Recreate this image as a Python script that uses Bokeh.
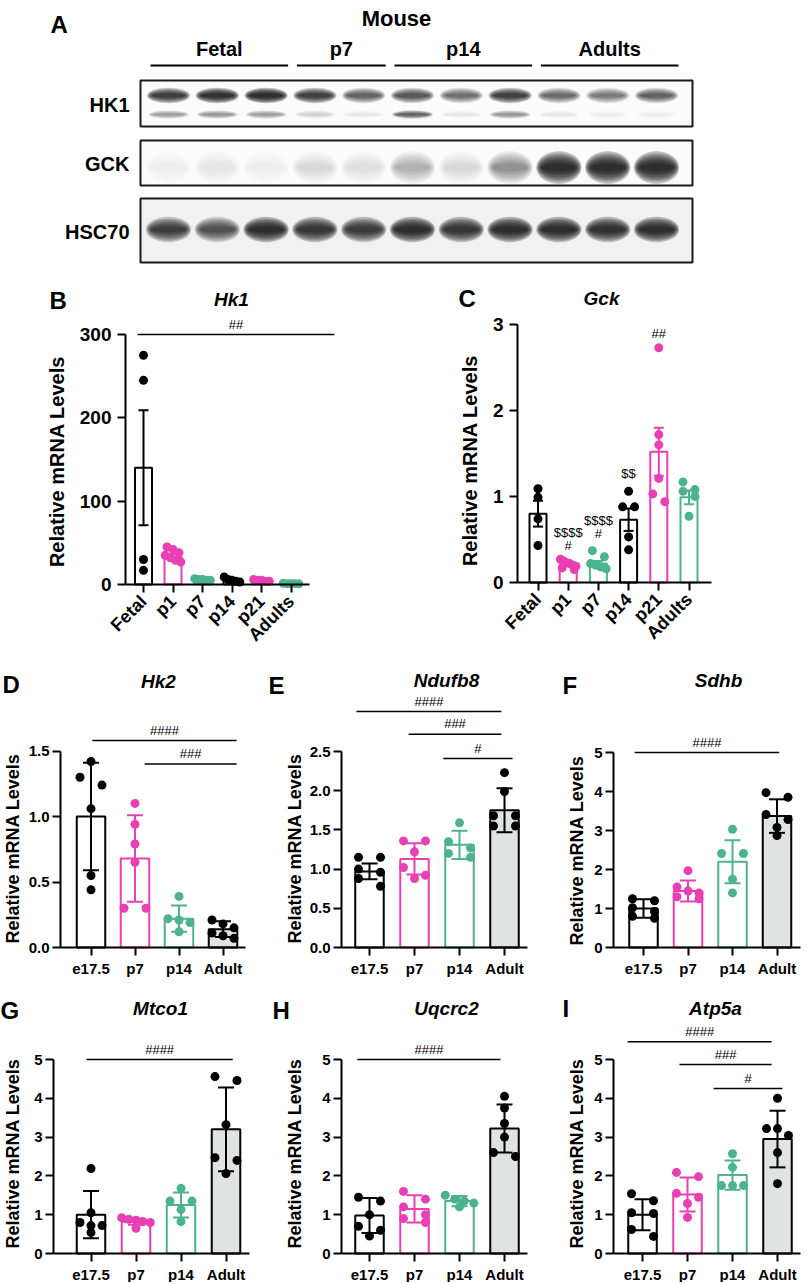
import math
from bokeh.plotting import figure
from bokeh.models import Range1d, Label, FixedTicker, PrintfTickFormatter, ColumnDataSource, PlainText
from bokeh.layouts import column, row
from bokeh.embed import file_html
from bokeh.resources import INLINE

FONT = "Liberation Sans"
BLACK = "#000000"
PINK = "#E83FB3"
GREEN = "#4DB28E"
ADULT_FILL = "#DFE3E2"

# ---------------- Panel A : western blot (relative band darkness per lane) ----------------
blot_groups = ["Fetal", "p7", "p14", "Adults"]
blot_lanes_per_group = [3, 2, 3, 3]
blot_proteins = ["HK1", "GCK", "HSC70"]
hk1_band = [0.85, 0.95, 1.0, 0.8, 0.55, 0.6, 0.45, 0.8, 0.5, 0.4, 0.55]
hk1_lower_band = [0.25, 0.3, 0.25, 0.1, 0.05, 0.55, 0.05, 0.3, 0.05, 0.03, 0.03]
gck_band = [0.03, 0.04, 0.03, 0.07, 0.06, 0.2, 0.08, 0.32, 1.0, 1.0, 1.0]
hsc70_band = [0.8, 0.65, 1.0, 0.9, 0.85, 1.0, 0.9, 1.0, 1.0, 0.95, 1.0]

# ---------------- Panel B : Hk1 ----------------
b_groups = ["Fetal", "p1", "p7", "p14", "p21", "Adults"]
b_means = [140, 33, 6, 5, 5, 1]
b_sem = [69, 3, 0.5, 1, 0.5, 0.2]
b_points = [[275, 245, 30, 17], [45, 42, 38, 35, 32, 29, 27], [7, 6, 6, 5, 5],
            [9, 6, 5, 4, 3], [6, 5, 5, 4, 4], [1.5, 1, 1, 1, 0.8]]

# ---------------- Panel C : Gck ----------------
c_groups = ["Fetal", "p1", "p7", "p14", "p21", "Adults"]
c_means = [0.80, 0.21, 0.22, 0.73, 1.52, 0.99]
c_sem = [0.15, 0.02, 0.03, 0.13, 0.28, 0.08]
c_points = [[1.09, 0.99, 0.74, 0.43], [0.27, 0.25, 0.23, 0.22, 0.20, 0.19, 0.17, 0.15],
            [0.37, 0.30, 0.22, 0.20, 0.18, 0.16], [1.06, 0.88, 0.88, 0.53, 0.38],
            [2.73, 1.72, 1.60, 1.21, 1.03, 0.94], [1.17, 1.08, 1.06, 1.00, 0.77]]

# ---------------- Panels D-I ----------------
ages = ["e17.5", "p7", "p14", "Adult"]

d_means = [1.0, 0.68, 0.22, 0.14]
d_sd = [0.41, 0.33, 0.10, 0.06]
d_points = [[1.42, 1.30, 1.24, 1.06, 0.55, 0.44], [1.10, 0.94, 0.79, 0.65, 0.30, 0.30],
            [0.39, 0.22, 0.21, 0.19, 0.12], [0.21, 0.18, 0.15, 0.11, 0.09, 0.07]]

e_means = [0.97, 1.13, 1.31, 1.75]
e_sd = [0.10, 0.20, 0.18, 0.28]
e_points = [[1.15, 1.15, 1.00, 0.96, 0.88, 0.78], [1.36, 1.36, 1.22, 1.02, 0.92, 0.88],
            [1.59, 1.35, 1.27, 1.20, 1.15], [2.23, 1.99, 1.68, 1.68, 1.55, 1.55]]

f_means = [1.0, 1.45, 2.2, 3.37]
f_sd = [0.24, 0.27, 0.55, 0.43]
f_points = [[1.25, 1.20, 1.02, 0.92, 0.80, 0.75], [1.97, 1.55, 1.45, 1.40, 1.30, 1.25],
            [3.03, 2.41, 2.41, 1.75, 1.40], [3.97, 3.85, 3.41, 3.28, 3.08, 2.87]]

g_means = [1.0, 0.82, 1.25, 3.2]
g_sd = [0.61, 0.08, 0.32, 1.08]
g_points = [[2.19, 1.05, 0.80, 0.72, 0.72, 0.54], [0.92, 0.88, 0.86, 0.82, 0.80, 0.65],
            [1.68, 1.35, 1.35, 1.13, 0.82], [4.56, 4.46, 3.32, 2.47, 2.40, 2.06]]

h_means = [0.98, 1.15, 1.35, 3.22]
h_sd = [0.45, 0.35, 0.13, 0.62]
h_points = [[1.45, 1.35, 1.00, 0.70, 0.60, 0.45], [1.60, 1.40, 1.20, 1.00, 0.90, 0.80],
            [1.50, 1.40, 1.35, 1.30, 1.20], [4.05, 3.75, 3.35, 3.00, 2.60, 2.50]]

i_means = [1.0, 1.52, 2.02, 2.95]
i_sd = [0.40, 0.44, 0.38, 0.73]
i_points = [[1.54, 1.36, 1.05, 1.03, 0.62, 0.44], [2.09, 1.98, 1.55, 1.45, 1.29, 0.93],
            [2.57, 2.22, 1.75, 1.75, 1.75], [4.00, 3.22, 3.22, 3.04, 2.60, 1.80]]


# ======================================================================
def add_label(p, x, y, text, size, style="bold", align="center", baseline="middle", angle=0.0):
    p.add_layout(Label(x=x, y=y, text=PlainText(text), text_font=FONT, text_font_size=size,
                       text_font_style=style, text_align=align, text_baseline=baseline,
                       angle=angle, text_color=BLACK))


def swarm(vals, sy, s_px, row_px=8.0):
    order = sorted(range(len(vals)), key=lambda k: -vals[k])
    rows, cur = [], []
    for k in order:
        if cur and (vals[cur[0]] - vals[k]) * sy > row_px:
            rows.append(cur)
            cur = []
        cur.append(k)
    if cur:
        rows.append(cur)
    offs = [0.0] * len(vals)
    for r in rows:
        n = len(r)
        if n == 1:
            o = [0.0]
        elif n == 2:
            o = [-s_px, s_px]
        elif n == 3:
            o = [-s_px, 0.0, s_px]
        else:
            o = [-1.3 * s_px + 2.6 * s_px * j / (n - 1) for j in range(n)]
        for k, oo in zip(r, o):
            offs[k] = oo
    return offs


def build_panel(cfg):
    ox, oy, W, H = cfg["box"]
    fl, fb, cx0, dx, sy = cfg["frame"]

    def X(px):
        return (px - cx0) / dx

    def Y(py):
        return (fb - py) / sy

    p = figure(width=W, height=H, x_range=Range1d(X(ox), X(ox + W)),
               y_range=Range1d(Y(oy + H), Y(oy)),
               min_border_left=0, min_border_right=0, min_border_top=0, min_border_bottom=0,
               output_backend="svg", toolbar_location=None)
    p.grid.visible = False
    p.outline_line_color = None
    p.background_fill_color = "white"
    p.border_fill_color = "white"

    groups = cfg["groups"]
    means = cfg["means"]
    errs = cfg["errs"]
    colors = cfg["colors"]
    fills = cfg["fills"]
    n = len(groups)
    idx = list(range(n))

    p.vbar(x=idx, top=means, bottom=0, width=cfg["bar_px"] / dx, fill_color=fills,
           line_color=colors, line_width=2)
    lo = [m - e for m, e in zip(means, errs)]
    hi = [m + e for m, e in zip(means, errs)]
    cw = cfg["cap_px"] / 2.0 / dx
    p.segment(x0=idx, y0=lo, x1=idx, y1=hi, line_color=colors, line_width=2)
    p.segment(x0=[i - cw for i in idx], y0=hi, x1=[i + cw for i in idx], y1=hi,
              line_color=colors, line_width=2)
    p.segment(x0=[i - cw for i in idx], y0=lo, x1=[i + cw for i in idx], y1=lo,
              line_color=colors, line_width=2)

    pxs, pys, pcs = [], [], []
    for i, vals in enumerate(cfg["points"]):
        offs = swarm(vals, sy, cfg["swarm_px"])
        for v, o in zip(vals, offs):
            pxs.append(i + o / dx)
            pys.append(v)
            pcs.append(colors[i])
    p.scatter(x=pxs, y=pys, size=cfg["dot"], fill_color=pcs, line_color=None)

    # significance bars
    for (x0, x1, lvl, txt) in cfg.get("sigs", []):
        p.segment(x0=[x0], y0=[lvl], x1=[x1], y1=[lvl], line_color=BLACK, line_width=1.5)
        add_label(p, (x0 + x1) / 2.0, lvl + 3.0 / sy, txt, "13px", style="normal",
                  baseline="bottom")
    for (i, lvl, txt) in cfg.get("marks", []):
        add_label(p, i, lvl, txt, "13px", style="normal")

    # axes (fixed inside the frame, so that every text lies in the same canvas area)
    yax = p.yaxis[0]
    xax = p.xaxis[0]
    yax.fixed_location = X(fl)
    xax.fixed_location = 0
    for ax in (xax, yax):
        ax.axis_line_width = 2
        ax.axis_line_color = BLACK
        ax.major_tick_line_width = 2
        ax.major_tick_line_color = BLACK
        ax.major_tick_out = 8
        ax.major_tick_in = 0
        ax.minor_tick_line_color = None
        ax.major_label_text_font = FONT
        ax.major_label_text_font_style = "bold"
        ax.major_label_text_color = BLACK
    yax.ticker = FixedTicker(ticks=cfg["yticks"])
    yax.bounds = (0, cfg["yticks"][-1])
    if cfg.get("yfmt"):
        yax.formatter = PrintfTickFormatter(format=cfg["yfmt"])
    yax.major_label_text_font_size = cfg["ytick_size"]
    yax.major_label_standoff = cfg["ystand"]
    xax.ticker = FixedTicker(ticks=idx)
    xax.major_label_overrides = {i: g for i, g in enumerate(groups)}
    xax.bounds = (X(fl), n - 1 + cfg["xext"])
    xax.major_label_text_font_size = cfg["xtick_size"]
    xax.major_label_standoff = cfg["xstand"]
    if cfg.get("xangle"):
        xax.major_label_orientation = cfg["xangle"]

    # texts: letter, title, y-axis title
    lx, ly = cfg["letter_pos"]
    add_label(p, X(lx), Y(ly), cfg["letter"], "24px", align="left")
    tx, ty = cfg["title_pos"]
    add_label(p, X(tx), Y(ty), cfg["title"], "19px", style="bold italic")
    ax_, ay_ = cfg["ylabel_pos"]
    add_label(p, X(ax_), Y(ay_), "Relative mRNA Levels", cfg["ylabel_size"], angle=math.pi / 2)
    return p


# ---------------- Panel A figure ----------------
pa = figure(width=806, height=280, x_range=Range1d(0, 806), y_range=Range1d(280, 0),
            min_border_left=0, min_border_right=0, min_border_top=0, min_border_bottom=0,
            x_axis_location=None, y_axis_location=None,
            output_backend="svg", toolbar_location=None)
pa.grid.visible = False
pa.outline_line_color = None

lane_x = [168 + 48.8 * k for k in range(sum(blot_lanes_per_group))]
box_l, box_r = 140, 692
boxes = [(80, 126), (140, 185), (198, 262)]
box_fill = ["#FBFBFB", "#FBFBFB", "#F1F1F1"]
pa.quad(left=[box_l] * 3, right=[box_r] * 3, top=[b[0] for b in boxes],
        bottom=[b[1] for b in boxes], fill_color=box_fill, line_color=None)

bx, by, bw_, bh_, ba = [], [], [], [], []
layers = [(1.08 - 0.045 * k, 1.7 - 0.22 * k, 0.26) for k in range(7)]


def add_bands(ints, yc, w, h):
    for xk, a in zip(lane_x, ints):
        for wf, hf, af in layers:
            bx.append(xk)
            by.append(yc)
            bw_.append(w * wf)
            bh_.append(h * hf)
            ba.append(min(1.0, a * af))


add_bands(hk1_band, 95, 40, 9)
add_bands(hk1_lower_band, 114, 38, 5)
add_bands(gck_band, 167, 42, 19)
add_bands(hsc70_band, 229, 42, 15)
pa.ellipse(x="x", y="y", width="w", height="h", fill_alpha="a", fill_color="#151515",
           line_color=None, source=ColumnDataSource(dict(x=bx, y=by, w=bw_, h=bh_, a=ba)))
pa.quad(left=[box_l] * 3, right=[box_r] * 3, top=[b[0] for b in boxes],
        bottom=[b[1] for b in boxes], fill_color=None, line_color="#1a1a1a", line_width=2)

add_label(pa, 50, 24, "A", "24px", align="left")
add_label(pa, 396, 18, "Mouse", "22px")
start = 0
for g, nl in zip(blot_groups, blot_lanes_per_group):
    x0 = lane_x[start] - 18
    x1 = lane_x[start + nl - 1] + 22
    pa.segment(x0=[x0], y0=[65], x1=[x1], y1=[65], line_color=BLACK, line_width=2)
    add_label(pa, (x0 + x1) / 2.0, 48, g, "20px")
    start += nl
for prot, (t, b) in zip(blot_proteins, boxes):
    add_label(pa, 129, (t + b) / 2.0 + 1, prot, "20px", align="right")

# ---------------- Panel configs ----------------
bc_common = dict(bar_px=17, cap_px=10, swarm_px=6, dot=9, ytick_size="19px", xtick_size="18px",
                 xangle=math.pi / 4, xstand=6, ylabel_size="20px")
cfg_b = dict(bc_common, box=(0, 280, 395, 380), frame=(125, 584, 143, 29.5, 0.8333),
             groups=b_groups, means=b_means, errs=b_sem, points=b_points,
             colors=[BLACK, PINK, GREEN, BLACK, PINK, GREEN], fills=["white"] * 6,
             yticks=[0, 100, 200, 300], ystand=6, xext=0.64,
             sigs=[(-0.2, 6.47, 300, "##")],
             letter="B", letter_pos=(49, 300), title="Hk1", title_pos=(231, 299),
             ylabel_pos=(56, 461))
cfg_c = dict(bc_common, box=(395, 280, 411, 380), frame=(517, 582, 537.5, 30.2, 86),
             groups=c_groups, means=c_means, errs=c_sem, points=c_points,
             colors=[BLACK, PINK, GREEN, BLACK, PINK, GREEN], fills=["white"] * 6,
             yticks=[0, 1, 2, 3], ystand=6, xext=0.73,
             marks=[(1, 0.58, "$$$$"), (1, 0.43, "#"), (2, 0.72, "$$$$"), (2, 0.57, "#"),
                    (3, 1.27, "$$"), (4, 2.9, "##")],
             letter="C", letter_pos=(458, 298), title="Gck", title_pos=(601, 298),
             ylabel_pos=(469, 460))

di_common = dict(groups=ages, bar_px=28.5, cap_px=16, swarm_px=11, dot=9, ytick_size="15px",
                 xtick_size="15px", xstand=4, ystand=3, xext=0.52, ylabel_size="18px",
                 colors=[BLACK, PINK, GREEN, BLACK], fills=["white", "white", "white", ADULT_FILL])

cfg_d = dict(di_common, box=(0, 660, 265, 335), frame=(60, 947, 90.5, 44, 131),
             means=d_means, errs=d_sd, points=d_points, yticks=[0, 0.5, 1.0, 1.5], yfmt="%.1f",
             sigs=[(0.03, 3.31, 1.58, "####"), (1.22, 3.31, 1.40, "###")],
             letter="D", letter_pos=(2, 684), title="Hk2", title_pos=(158, 681),
             ylabel_pos=(12, 848))
cfg_e = dict(di_common, box=(265, 660, 270, 335), frame=(341, 947, 369, 45, 78.4),
             means=e_means, errs=e_sd, points=e_points, yticks=[0, 0.5, 1.0, 1.5, 2.0, 2.5],
             yfmt="%.1f",
             sigs=[(-0.29, 2.93, 3.01, "####"), (0.87, 2.93, 2.72, "###"), (1.64, 3.18, 2.41, "#")],
             letter="E", letter_pos=(268, 685), title="Ndufb8", title_pos=(446, 680),
             ylabel_pos=(294, 848))
cfg_f = dict(di_common, box=(535, 660, 271, 335), frame=(613, 947, 643, 44.5, 39),
             means=f_means, errs=f_sd, points=f_points, yticks=[0, 1, 2, 3, 4, 5],
             sigs=[(-0.2, 3.05, 5.0, "####")],
             letter="F", letter_pos=(562, 685), title="Sdhb", title_pos=(718, 680),
             ylabel_pos=(576, 850))
cfg_g = dict(di_common, box=(0, 995, 265, 287), frame=(53, 1253, 90.5, 45, 38.8),
             means=g_means, errs=g_sd, points=g_points, yticks=[0, 1, 2, 3, 4, 5],
             sigs=[(-0.1, 3.15, 5.0, "####")],
             letter="G", letter_pos=(0, 1010), title="Mtco1", title_pos=(160, 1008),
             ylabel_pos=(12, 1153))
cfg_h = dict(di_common, box=(265, 995, 270, 287), frame=(341, 1253, 369, 45, 38.8),
             means=h_means, errs=h_sd, points=h_points, yticks=[0, 1, 2, 3, 4, 5],
             sigs=[(-0.27, 2.91, 5.0, "####")],
             letter="H", letter_pos=(272, 1010), title="Uqcrc2", title_pos=(446, 1008),
             ylabel_pos=(294, 1153))
cfg_i = dict(di_common, box=(535, 995, 271, 287), frame=(613, 1253, 642, 45, 38.8),
             means=i_means, errs=i_sd, points=i_points, yticks=[0, 1, 2, 3, 4, 5],
             sigs=[(-0.33, 2.87, 5.46, "####"), (0.82, 2.87, 4.87, "###"), (1.58, 3.11, 4.25, "#")],
             letter="I", letter_pos=(562, 1008), title="Atp5a", title_pos=(715, 1008),
             ylabel_pos=(576, 1153))

layout = column(
    pa,
    row(build_panel(cfg_b), build_panel(cfg_c)),
    row(build_panel(cfg_d), build_panel(cfg_e), build_panel(cfg_f)),
    row(build_panel(cfg_g), build_panel(cfg_h), build_panel(cfg_i)),
)

open("out.html", "w").write(file_html(layout, INLINE))
